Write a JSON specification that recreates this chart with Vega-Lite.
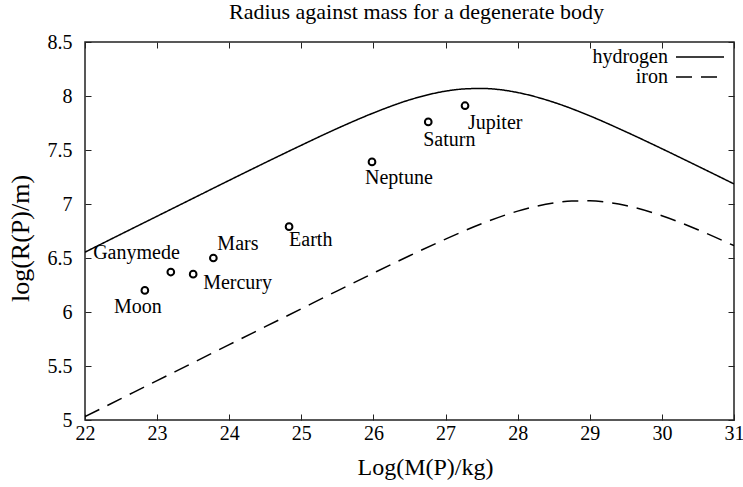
{
  "$schema": "https://vega.github.io/schema/vega-lite/v6.json",
  "width": 649,
  "height": 378,
  "autosize": {"type": "none"},
  "padding": {"left": 85, "top": 42, "right": 9, "bottom": 67},
  "title": {"text": "Radius against mass for a degenerate body", "font": "Liberation Serif", "fontSize": 22, "fontWeight": "normal", "color": "black", "baseline": "alphabetic", "frame": "group", "offset": 12, "dx": 7, "dy": 21},
  "datasets": {
    "curves": [
      {"mass": 22, "radius": 6.554, "material": "hydrogen"},
      {"mass": 22.5, "radius": 6.721, "material": "hydrogen"},
      {"mass": 23, "radius": 6.887, "material": "hydrogen"},
      {"mass": 23.5, "radius": 7.053, "material": "hydrogen"},
      {"mass": 24, "radius": 7.219, "material": "hydrogen"},
      {"mass": 24.5, "radius": 7.383, "material": "hydrogen"},
      {"mass": 25, "radius": 7.544, "material": "hydrogen"},
      {"mass": 25.5, "radius": 7.700, "material": "hydrogen"},
      {"mass": 26, "radius": 7.843, "material": "hydrogen"},
      {"mass": 26.5, "radius": 7.964, "material": "hydrogen"},
      {"mass": 27, "radius": 8.045, "material": "hydrogen"},
      {"mass": 27.25, "radius": 8.065, "material": "hydrogen"},
      {"mass": 27.5, "radius": 8.070, "material": "hydrogen"},
      {"mass": 27.75, "radius": 8.059, "material": "hydrogen"},
      {"mass": 28, "radius": 8.032, "material": "hydrogen"},
      {"mass": 28.5, "radius": 7.942, "material": "hydrogen"},
      {"mass": 29, "radius": 7.816, "material": "hydrogen"},
      {"mass": 29.5, "radius": 7.669, "material": "hydrogen"},
      {"mass": 30, "radius": 7.512, "material": "hydrogen"},
      {"mass": 30.5, "radius": 7.350, "material": "hydrogen"},
      {"mass": 31, "radius": 7.186, "material": "hydrogen"},
      {"mass": 22, "radius": 5.031, "material": "iron"},
      {"mass": 22.5, "radius": 5.198, "material": "iron"},
      {"mass": 23, "radius": 5.365, "material": "iron"},
      {"mass": 23.5, "radius": 5.531, "material": "iron"},
      {"mass": 24, "radius": 5.698, "material": "iron"},
      {"mass": 24.5, "radius": 5.864, "material": "iron"},
      {"mass": 25, "radius": 6.030, "material": "iron"},
      {"mass": 25.5, "radius": 6.196, "material": "iron"},
      {"mass": 26, "radius": 6.360, "material": "iron"},
      {"mass": 26.5, "radius": 6.521, "material": "iron"},
      {"mass": 27, "radius": 6.675, "material": "iron"},
      {"mass": 27.5, "radius": 6.817, "material": "iron"},
      {"mass": 28, "radius": 6.934, "material": "iron"},
      {"mass": 28.5, "radius": 7.010, "material": "iron"},
      {"mass": 28.75, "radius": 7.027, "material": "iron"},
      {"mass": 29, "radius": 7.029, "material": "iron"},
      {"mass": 29.25, "radius": 7.015, "material": "iron"},
      {"mass": 29.5, "radius": 6.986, "material": "iron"},
      {"mass": 30, "radius": 6.891, "material": "iron"},
      {"mass": 30.5, "radius": 6.762, "material": "iron"},
      {"mass": 31, "radius": 6.614, "material": "iron"}
    ],
    "bodies": [
      {"body": "Moon", "mass": 22.83, "radius": 6.20},
      {"body": "Ganymede", "mass": 23.19, "radius": 6.37},
      {"body": "Mercury", "mass": 23.50, "radius": 6.35},
      {"body": "Mars", "mass": 23.78, "radius": 6.50},
      {"body": "Earth", "mass": 24.83, "radius": 6.79},
      {"body": "Neptune", "mass": 25.98, "radius": 7.39},
      {"body": "Saturn", "mass": 26.76, "radius": 7.76},
      {"body": "Jupiter", "mass": 27.27, "radius": 7.91}
    ]
  },
  "layer": [
    {
      "data": {"name": "curves"},
      "mark": {"type": "line", "interpolate": "monotone", "color": "black", "strokeWidth": 1.5, "clip": true},
      "encoding": {
        "x": {"field": "mass", "type": "quantitative", "scale": {"domain": [22, 31], "nice": false, "zero": false},
              "axis": {"orient": "bottom", "title": "Log(M(P)/kg)", "titleFontSize": 24, "values": [22, 23, 24, 25, 26, 27, 28, 29, 30, 31], "labelPadding": 9, "titlePadding": 12, "titleX": 340, "labelFlush": false, "labelOverlap": false}},
        "y": {"field": "radius", "type": "quantitative", "scale": {"domain": [5, 8.5], "nice": false, "zero": false},
              "axis": {"orient": "left", "title": "log(R(P)/m)", "titleFontSize": 26, "values": [5, 5.5, 6, 6.5, 7, 7.5, 8, 8.5], "labelExpr": "'' + datum.value", "labelPadding": 19, "titlePadding": 14, "titleY": 196, "labelFlush": false, "labelOverlap": false}},
        "strokeDash": {"field": "material", "type": "nominal", "scale": {"domain": ["hydrogen", "iron"], "range": [[1, 0], [16, 9]]},
                       "legend": {"title": null, "orient": "none", "legendX": 605, "legendY": 5, "symbolType": "M-3,0L3,0", "symbolSize": 256, "symbolStrokeWidth": 1.5, "symbolStrokeColor": "black", "symbolFillColor": "transparent", "labelAlign": "right", "labelOffset": -42, "labelFont": "Liberation Serif", "labelFontSize": 20, "labelColor": "black", "rowPadding": 0, "padding": 0, "labelLimit": 300}}
      }
    },
    {
      "data": {"name": "bodies"},
      "mark": {"type": "point", "shape": "circle", "filled": false, "color": "black", "strokeWidth": 2, "size": 45, "opacity": 1},
      "encoding": {
        "x": {"field": "mass", "type": "quantitative", "axis": {"orient": "top", "title": null, "labels": false, "minExtent": 0, "values": [22, 23, 24, 25, 26, 27, 28, 29, 30, 31]}},
        "y": {"field": "radius", "type": "quantitative", "axis": {"orient": "right", "title": null, "labels": false, "minExtent": 0, "values": [5, 5.5, 6, 6.5, 7, 7.5, 8, 8.5]}}
      }
    },
    {
      "data": {"name": "bodies"},
      "transform": [{"filter": "datum.body == 'Moon'"}],
      "mark": {"type": "text", "align": "center", "baseline": "middle", "dx": -7, "dy": 17, "fontSize": 20, "color": "black"},
      "encoding": {"x": {"field": "mass", "type": "quantitative", "axis": null}, "y": {"field": "radius", "type": "quantitative", "axis": null}, "text": {"field": "body"}}
    },
    {
      "data": {"name": "bodies"},
      "transform": [{"filter": "datum.body == 'Ganymede'"}],
      "mark": {"type": "text", "align": "right", "baseline": "middle", "dx": 9, "dy": -19, "fontSize": 20, "color": "black"},
      "encoding": {"x": {"field": "mass", "type": "quantitative", "axis": null}, "y": {"field": "radius", "type": "quantitative", "axis": null}, "text": {"field": "body"}}
    },
    {
      "data": {"name": "bodies"},
      "transform": [{"filter": "datum.body == 'Mercury'"}],
      "mark": {"type": "text", "align": "left", "baseline": "middle", "dx": 10, "dy": 9, "fontSize": 20, "color": "black"},
      "encoding": {"x": {"field": "mass", "type": "quantitative", "axis": null}, "y": {"field": "radius", "type": "quantitative", "axis": null}, "text": {"field": "body"}}
    },
    {
      "data": {"name": "bodies"},
      "transform": [{"filter": "datum.body == 'Mars'"}],
      "mark": {"type": "text", "align": "left", "baseline": "middle", "dx": 4, "dy": -14, "fontSize": 20, "color": "black"},
      "encoding": {"x": {"field": "mass", "type": "quantitative", "axis": null}, "y": {"field": "radius", "type": "quantitative", "axis": null}, "text": {"field": "body"}}
    },
    {
      "data": {"name": "bodies"},
      "transform": [{"filter": "datum.body == 'Earth'"}],
      "mark": {"type": "text", "align": "left", "baseline": "middle", "dx": 0, "dy": 13, "fontSize": 20, "color": "black"},
      "encoding": {"x": {"field": "mass", "type": "quantitative", "axis": null}, "y": {"field": "radius", "type": "quantitative", "axis": null}, "text": {"field": "body"}}
    },
    {
      "data": {"name": "bodies"},
      "transform": [{"filter": "datum.body == 'Neptune'"}],
      "mark": {"type": "text", "align": "left", "baseline": "middle", "dx": -7, "dy": 16, "fontSize": 20, "color": "black"},
      "encoding": {"x": {"field": "mass", "type": "quantitative", "axis": null}, "y": {"field": "radius", "type": "quantitative", "axis": null}, "text": {"field": "body"}}
    },
    {
      "data": {"name": "bodies"},
      "transform": [{"filter": "datum.body == 'Saturn'"}],
      "mark": {"type": "text", "align": "left", "baseline": "middle", "dx": -5, "dy": 18, "fontSize": 20, "color": "black"},
      "encoding": {"x": {"field": "mass", "type": "quantitative", "axis": null}, "y": {"field": "radius", "type": "quantitative", "axis": null}, "text": {"field": "body"}}
    },
    {
      "data": {"name": "bodies"},
      "transform": [{"filter": "datum.body == 'Jupiter'"}],
      "mark": {"type": "text", "align": "left", "baseline": "middle", "dx": 3, "dy": 17, "fontSize": 20, "color": "black"},
      "encoding": {"x": {"field": "mass", "type": "quantitative", "axis": null}, "y": {"field": "radius", "type": "quantitative", "axis": null}, "text": {"field": "body"}}
    }
  ],
  "resolve": {"axis": {"x": "independent", "y": "independent"}},
  "config": {
    "font": "Liberation Serif",
    "background": "white",
    "view": {"stroke": "#222", "strokeWidth": 1.5},
    "axis": {"domain": false, "grid": false, "tickColor": "#222", "tickSize": -6, "tickWidth": 1, "labelFont": "Liberation Serif", "labelFontSize": 20, "labelColor": "black", "titleFont": "Liberation Serif", "titleFontSize": 23, "titleFontWeight": "normal", "titleColor": "black"},
    "text": {"font": "Liberation Serif"}
  }
}
